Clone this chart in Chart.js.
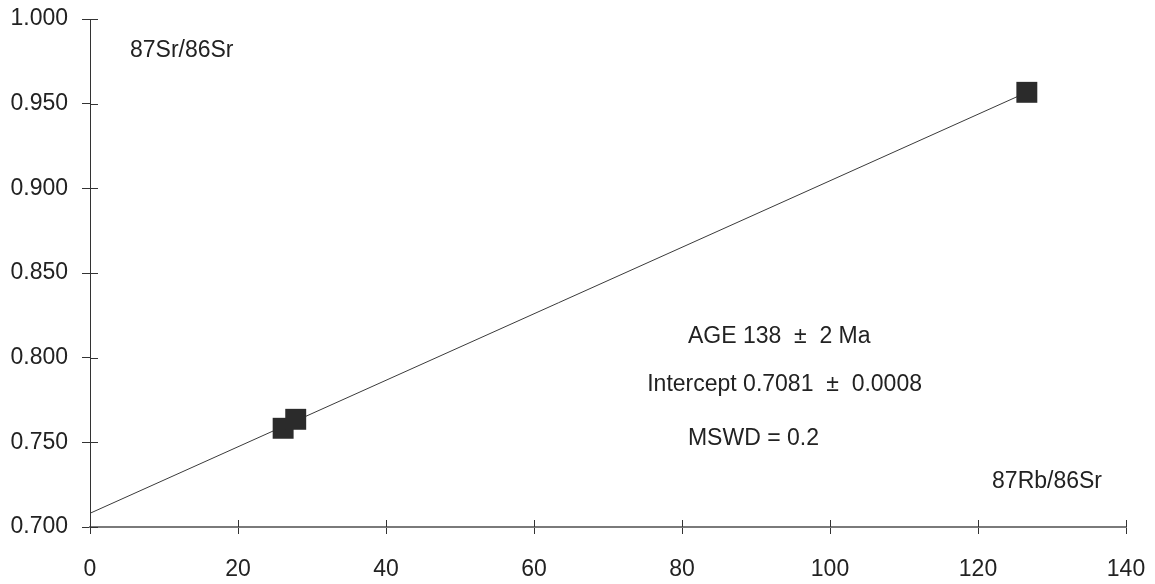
<!DOCTYPE html>
<html>
<head>
<meta charset="utf-8">
<script src="https://cdn.jsdelivr.net/npm/chart.js@4"></script>
<style>
  html, body { margin: 0; padding: 0; background: #ffffff; }
  #wrap { width: 1155px; height: 584px; }
</style>
</head>
<body>
<div id="wrap"><canvas id="c" width="1155" height="584"></canvas></div>
<script>
// Rb-Sr isochron: measured samples
const rbSrRatio = [26.1, 27.8, 126.6];      // 87Rb/86Sr
const srSrRatio = [0.7583, 0.7636, 0.9567]; // 87Sr/86Sr

// Fitted isochron line (intercept 0.7081 at x = 0)
const fitX = [0, 126.6];
const fitY = [0.7081, 0.9567];

// Axis tick values
const xTickValues = [0, 20, 40, 60, 80, 100, 120, 140];
const yTickValues = [0.700, 0.750, 0.800, 0.850, 0.900, 0.950, 1.000];

// Text notes placed in data coordinates
const noteTexts = ['87Sr/86Sr', 'AGE 138  \u00b1  2 Ma', 'Intercept 0.7081  \u00b1  0.0008', 'MSWD = 0.2', '87Rb/86Sr'];
const noteX = [5.4, 80.8, 75.3, 80.8, 121.9];
const noteY = [0.9816, 0.8122, 0.7841, 0.7519, 0.7265];

const FONT = '"Liberation Sans", Arial, Helvetica, sans-serif';
const TEXT_COLOR = '#222222';

// Fixed scale sizes; label overflow is handled by the layout padding
function fixScale(size, prop) {
  return function (scale) {
    scale[prop] = size;
    scale.paddingTop = 0;
    scale.paddingBottom = 0;
    scale.paddingLeft = 0;
    scale.paddingRight = 0;
  };
}

// Tick marks crossing the axis lines (inner half; outer half comes from the scale)
const crossTicks = {
  id: 'crossTicks',
  afterDraw(chart) {
    const { ctx, chartArea, scales } = chart;
    ctx.save();
    ctx.strokeStyle = '#333333';
    ctx.lineWidth = 1;
    ctx.beginPath();
    scales.x.ticks.forEach(t => {
      const px = Math.round(scales.x.getPixelForValue(t.value)) + 0.5;
      ctx.moveTo(px, chartArea.bottom);
      ctx.lineTo(px, chartArea.bottom - 7);
    });
    scales.y.ticks.forEach(t => {
      const py = Math.round(scales.y.getPixelForValue(t.value)) + 0.5;
      ctx.moveTo(chartArea.left, py);
      ctx.lineTo(chartArea.left + 8, py);
    });
    ctx.stroke();
    ctx.restore();
  }
};

// Free text notes
const notes = {
  id: 'notes',
  afterDraw(chart) {
    const { ctx, scales } = chart;
    ctx.save();
    ctx.fillStyle = TEXT_COLOR;
    ctx.font = '23px ' + FONT;
    ctx.textAlign = 'left';
    ctx.textBaseline = 'middle';
    noteTexts.forEach((txt, i) => {
      ctx.fillText(txt, scales.x.getPixelForValue(noteX[i]), scales.y.getPixelForValue(noteY[i]));
    });
    ctx.restore();
  }
};

new Chart(document.getElementById('c'), {
  type: 'scatter',
  data: {
    datasets: [
      {
        type: 'line',
        data: fitX.map((x, i) => ({ x, y: fitY[i] })),
        borderColor: '#3a3a3a',
        borderWidth: 1,
        pointRadius: 0,
        fill: false,
        order: 2
      },
      {
        data: rbSrRatio.map((x, i) => ({ x, y: srSrRatio[i] })),
        pointStyle: 'rect',
        pointRadius: 14.8,
        pointHoverRadius: 14.8,
        backgroundColor: '#2b2b2b',
        borderColor: '#2b2b2b',
        borderWidth: 0,
        order: 1
      }
    ]
  },
  options: {
    responsive: false,
    animation: false,
    events: [],
    layout: { padding: { top: 19, right: 29, left: 0, bottom: 0 } },
    plugins: {
      legend: { display: false },
      tooltip: { enabled: false }
    },
    scales: {
      x: {
        type: 'linear',
        min: 0,
        max: 140,
        afterBuildTicks(scale) { scale.ticks = xTickValues.map(v => ({ value: v })); },
        afterFit: fixScale(57, 'height'),
        border: { display: true, color: '#7a7a7a', width: 2 },
        grid: { display: true, drawOnChartArea: false, drawTicks: true, tickLength: 7, color: '#333333', lineWidth: 1 },
        ticks: {
          color: TEXT_COLOR,
          font: { family: FONT, size: 23 },
          padding: 22,
          maxRotation: 0,
          callback: v => String(v)
        }
      },
      y: {
        type: 'linear',
        min: 0.7,
        max: 1.0,
        afterBuildTicks(scale) { scale.ticks = yTickValues.map(v => ({ value: v })); },
        afterFit: fixScale(90, 'width'),
        border: { display: true, color: '#333333', width: 1 },
        grid: { display: true, drawOnChartArea: false, drawTicks: true, tickLength: 8, color: '#333333', lineWidth: 1 },
        ticks: {
          color: TEXT_COLOR,
          font: { family: FONT, size: 23 },
          padding: 14,
          callback: v => Number(v).toFixed(3)
        }
      }
    }
  },
  plugins: [crossTicks, notes]
});
</script>
</body>
</html>
